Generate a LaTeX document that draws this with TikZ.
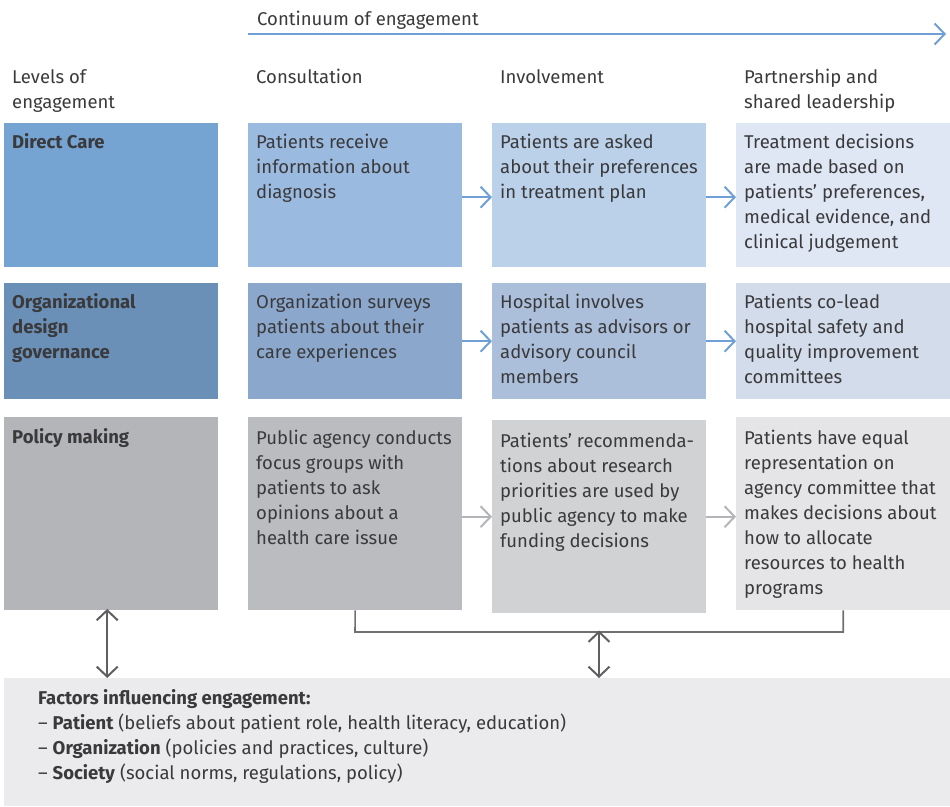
\documentclass[tikz,border=0pt]{standalone}
\usepackage{fontspec}
\setmainfont{Fira Sans}
\usetikzlibrary{arrows.meta}
\definecolor{txt}{HTML}{3A3A3C}
\definecolor{ablue}{HTML}{6FA0D5}
\definecolor{agray}{HTML}{B4B5B9}
\definecolor{dgray}{HTML}{606062}
\definecolor{c00}{HTML}{75A4D3}
\definecolor{c01}{HTML}{9BBADF}
\definecolor{c02}{HTML}{BBD0E9}
\definecolor{c03}{HTML}{DFE7F4}
\definecolor{c10}{HTML}{6B90B8}
\definecolor{c11}{HTML}{8BA7CC}
\definecolor{c12}{HTML}{ABBFDB}
\definecolor{c13}{HTML}{D3DCEA}
\definecolor{c20}{HTML}{B4B5B9}
\definecolor{c21}{HTML}{BBBCC0}
\definecolor{c22}{HTML}{D1D2D4}
\definecolor{c23}{HTML}{E5E5E7}
\definecolor{facbg}{HTML}{EBEBED}
\newcommand{\firstst}{\rule{0pt}{18pt}}
\begin{document}
\begin{tikzpicture}[x=1pt,y=-1pt,
  cell/.style={rectangle, inner sep=0pt, minimum width=214pt, anchor=north west, draw=none},
  tx/.style={anchor=north west, inner sep=0pt, align=left, text=txt, font=\fontsize{18.5}{25}\selectfont, yshift=18pt},
  btx/.style={tx, font=\fontsize{18.5}{25}\selectfont\bfseries},
  barrow/.style={draw=ablue, line width=2pt, -{Straight Barb[length=10pt,width=21pt]}},
  garrow/.style={draw=agray, line width=2pt, -{Straight Barb[length=10pt,width=21pt]}},
  dblarrow/.style={draw=dgray, line width=2pt, {Straight Barb[length=10pt,width=21pt]}-{Straight Barb[length=10pt,width=21pt]}},
  bracket/.style={draw=dgray!90, line width=1.6pt}
]
\useasboundingbox (0,0) rectangle (950,806);

% title and continuum arrow
\node[tx] (title) at (257,25) {\firstst Continuum of engagement};
\coordinate (cs) at (248,34);
\coordinate (ce) at (946,34);
\draw[barrow] (cs) -- (ce);

% column headers
\node[tx] (h0) at (12,83) {\firstst Levels of\\engagement};
\node[tx] (h1) at (256,83) {\firstst Consultation};
\node[tx] (h2) at (500,83) {\firstst Involvement};
\node[tx] (h3) at (744,83) {\firstst Partnership and\\shared leadership};

% row 1
\node[cell, minimum height=144pt, fill=c00] (b00) at (4,123) {};
\node[cell, minimum height=144pt, fill=c01] (b01) at (248,123) {};
\node[cell, minimum height=144pt, fill=c02] (b02) at (492,123) {};
\node[cell, minimum height=144pt, fill=c03] (b03) at (736,123) {};
% row 2
\node[cell, minimum height=116pt, fill=c10] (b10) at (4,283) {};
\node[cell, minimum height=116pt, fill=c11] (b11) at (248,283) {};
\node[cell, minimum height=116pt, fill=c12] (b12) at (492,283) {};
\node[cell, minimum height=116pt, fill=c13] (b13) at (736,283) {};
% row 3
\node[cell, minimum height=193pt, fill=c20] (b20) at (4,417) {};
\node[cell, minimum height=193pt, fill=c21] (b21) at (248,417) {};
\node[cell, minimum height=193pt, fill=c22] (b22) at (492,420) {};
\node[cell, minimum height=193pt, fill=c23] (b23) at (736,417) {};
% factors box
\node[cell, minimum width=946pt, minimum height=128pt, fill=facbg] (fac) at (4,678) {};

% texts row 1
\node[btx] (t00) at (12,148) {\firstst Direct Care};
\node[tx] (t01) at (256,148) {\firstst Patients receive\\information about\\diagnosis};
\node[tx] (t02) at (500,148) {\firstst Patients are asked\\about their preferences\\in treatment plan};
\node[tx] (t03) at (744,148) {\firstst Treatment decisions\\are made based on\\patients’ preferences,\\medical evidence, and\\clinical judgement};
% texts row 2
\node[btx] (t10) at (12,308) {\firstst Organizational\\design\\governance};
\node[tx] (t11) at (256,308) {\firstst Organization surveys\\patients about their\\care experiences};
\node[tx] (t12) at (500,308) {\firstst Hospital involves\\patients as advisors or\\advisory council\\members};
\node[tx] (t13) at (744,308) {\firstst Patients co-lead\\hospital safety and\\quality improvement\\committees};
% texts row 3
\node[btx] (t20) at (12,443) {\firstst Policy making};
\node[tx] (t21) at (256,444) {\firstst Public agency conducts\\focus groups with\\patients to ask\\opinions about a\\health care issue};
\node[tx] (t22) at (500,447) {\firstst Patients’ recommenda-\\tions about research\\priorities are used by\\public agency to make\\funding decisions};
\node[tx] (t23) at (744,444) {\firstst Patients have equal\\representation on\\agency committee that\\makes decisions about\\how to allocate\\resources to health\\programs};

% factors text
\node[tx] (ft) at (38,704) {\firstst\textbf{Factors influencing engagement:}\\
– \textbf{Patient} (beliefs about patient role, health literacy, education)\\
– \textbf{Organization} (policies and practices, culture)\\
– \textbf{Society} (social norms, regulations, policy)};

% row arrows
\draw[barrow] ([yshift=-2pt]b01.east) -- ([yshift=-2pt]b01.east -| b02.west);
\draw[barrow] ([yshift=-2pt]b02.east) -- ([yshift=-2pt]b02.east -| b03.west);
\draw[barrow] (b11.east) -- (b11.east -| b12.west);
\draw[barrow] (b12.east) -- (b12.east -| b13.west);
\draw[garrow] (b21.east |- b22.west) -- (b22.west);
\draw[garrow] (b22.east) -- (b22.east -| b23.west);

% bracket and double arrows
\coordinate (bl) at (355,632);
\coordinate (bm) at (599,632);
\draw[bracket] (b21.south) -- (bl) -| (b23.south);
\draw[dblarrow] ([yshift=1.5pt]bm) -- (bm |- fac.north);
\draw[dblarrow] ([xshift=-4pt,yshift=1.5pt]b20.south) -- ([xshift=-4pt]b20.south |- fac.north);
\end{tikzpicture}
\end{document}
